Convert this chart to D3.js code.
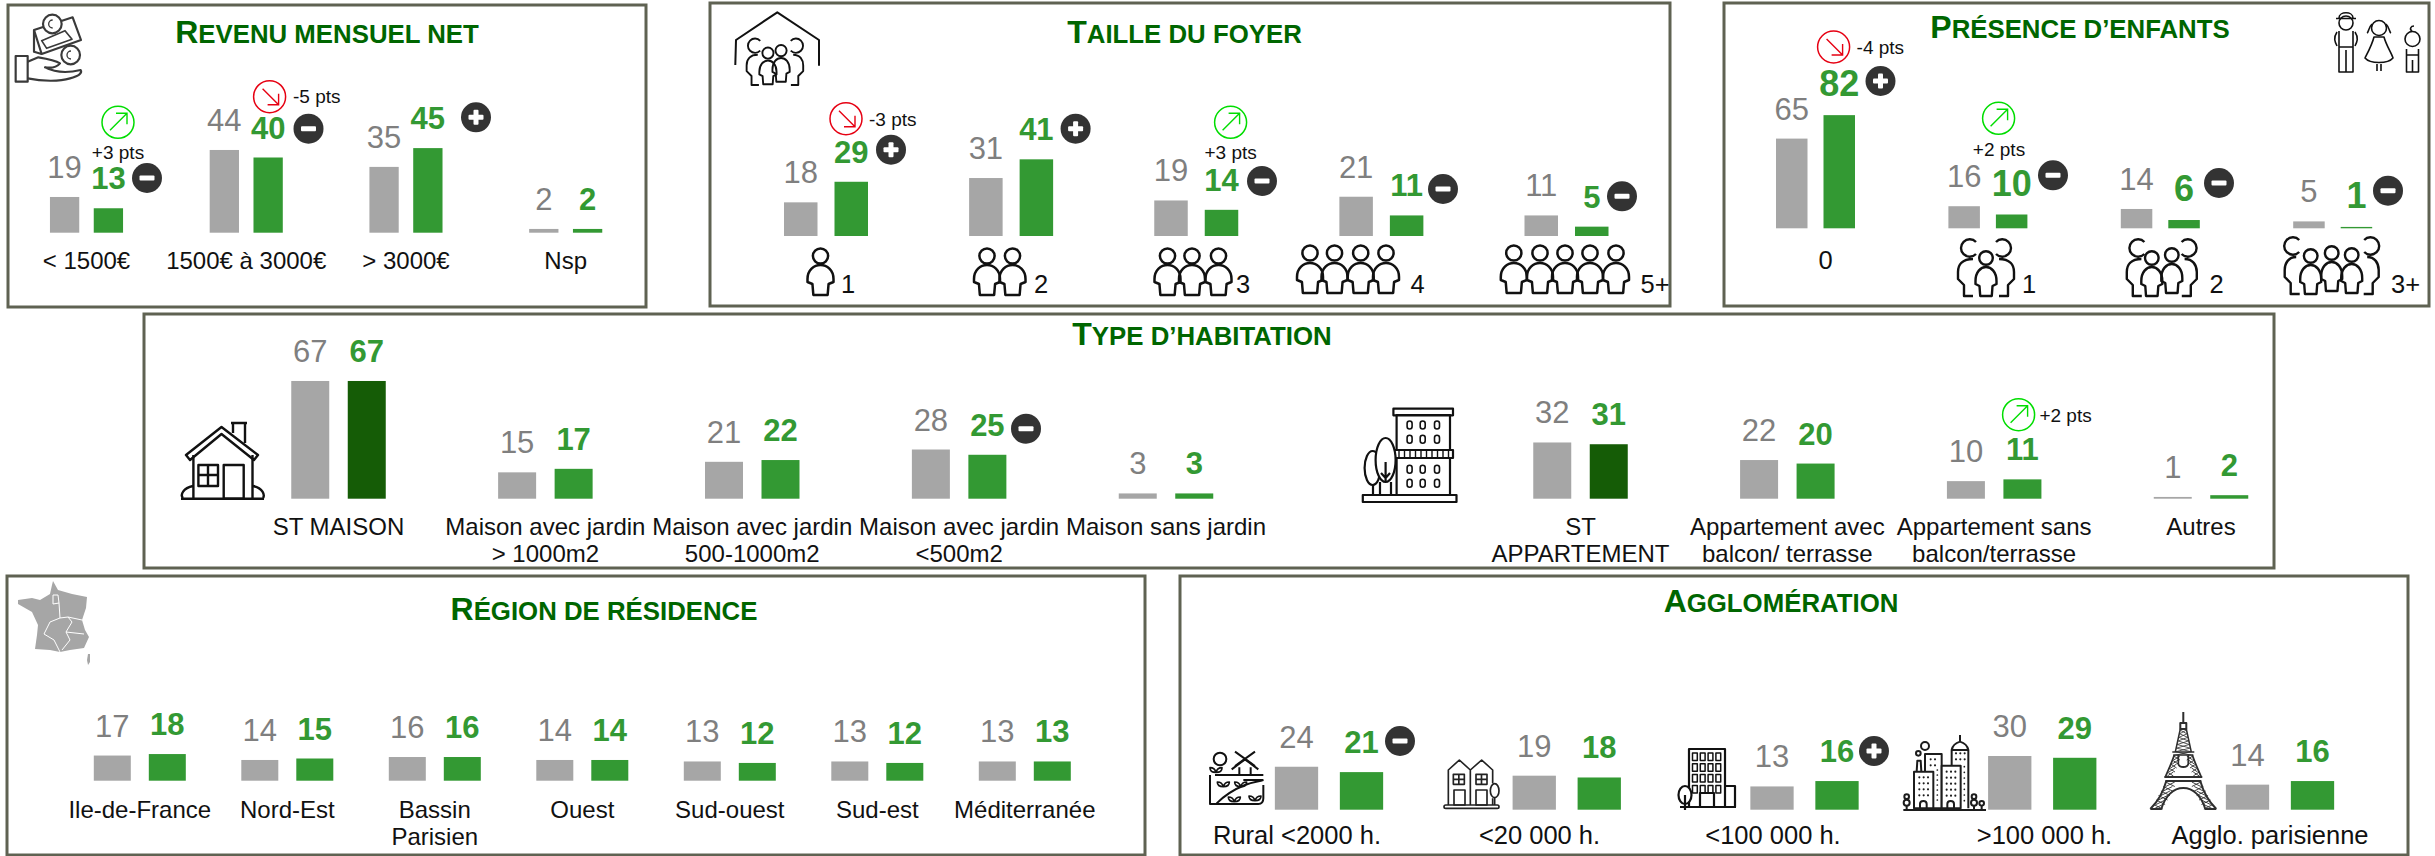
<!DOCTYPE html>
<html>
<head>
<meta charset="utf-8">
<script src="https://cdn.jsdelivr.net/npm/d3@7"></script>
<style>
  html, body { margin: 0; padding: 0; background: #fff; }
  text { font-family: "Liberation Sans", Arial, sans-serif; }
</style>
</head>
<body>
<script>
// values: grey = previous group, green = this group
var revenuCats = ['< 1500€', '1500€ à 3000€', '> 3000€', 'Nsp'];
var revenuGrey = [19, 44, 35, 2];
var revenuGreen = [13, 40, 45, 2];

var foyerCats = ['1', '2', '3', '4', '5+'];
var foyerGrey = [18, 31, 19, 21, 11];
var foyerGreen = [29, 41, 14, 11, 5];

var enfantsCats = ['0', '1', '2', '3+'];
var enfantsGrey = [65, 16, 14, 5];
var enfantsGreen = [82, 10, 6, 1];

var habitationCats = ['ST MAISON', 'Maison avec jardin|> 1000m2', 'Maison avec jardin|500-1000m2', 'Maison avec jardin|<500m2', 'Maison sans jardin',
  'ST|APPARTEMENT', 'Appartement avec|balcon/ terrasse', 'Appartement sans|balcon/terrasse', 'Autres'];
var habitationGrey = [67, 15, 21, 28, 3, 32, 22, 10, 1];
var habitationGreen = [67, 17, 22, 25, 3, 31, 20, 11, 2];

var regionCats = ['Ile-de-France', 'Nord-Est', 'Bassin|Parisien', 'Ouest', 'Sud-ouest', 'Sud-est', 'Méditerranée'];
var regionGrey = [17, 14, 16, 14, 13, 13, 13];
var regionGreen = [18, 15, 16, 14, 12, 12, 13];

var aggloCats = ['Rural <2000 h.', '<20 000 h.', '<100 000 h.', '>100 000 h.', 'Agglo. parisienne'];
var aggloGrey = [24, 19, 13, 30, 14];
var aggloGreen = [21, 18, 16, 29, 16];

var GREY = '#a6a6a6', GREEN = '#339933', DARK = '#155c06', TITLE = '#006600', GREYTXT = '#7f7f7f', BADGE = '#333333', FRAME = '#5f6252';

// panels: frame, scales and annotations (pixel layout lives here, not in the data)
var panels = [
  { title: 'Revenu mensuel net', titleX: 327, titleY: 42.7, box: [8, 5, 638, 302],
    cats: revenuCats, grey: revenuGrey, green: revenuGreen,
    xDomain: [0, 3], xRange: [86.5, 565.7], base: 232.7, k: 1.88, barW: 29.3, gap: 14.5,
    labelY: 269, labelSize: 24,
    badges: [[147, 178, '-'], [308.5, 128.7, '-'], [476, 117.3, '+']],
    arrows: [[118, 122.3, 1, '+3 pts', 118, 159.3, 'middle'], [269.6, 96.7, -1, '-5 pts', 293, 103, 'start']] },
  { title: 'Taille du foyer', titleX: 1184.5, titleY: 42.7, box: [710, 3, 960, 303],
    cats: foyerCats, grey: foyerGrey, green: foyerGreen,
    xDomain: [0, 4], xRange: [826, 1566.5], base: 236, k: 1.87, barW: 33.5, gap: 17,
    labelY: 292.5, labelSize: 25.5, labelX: [848, 1041, 1243, 1417.5, 1655],
    badges: [[891, 149.7, '+'], [1075.6, 128.7, '+'], [1262, 181, '-'], [1443, 189, '-'], [1622, 196.3, '-']],
    arrows: [[846, 118.7, -1, '-3 pts', 869, 126, 'start'], [1230.6, 122.3, 1, '+3 pts', 1230.6, 159, 'middle']] },
  { title: 'Présence d’enfants', titleX: 2080, titleY: 37.7, box: [1724, 3, 705, 303],
    cats: enfantsCats, grey: enfantsGrey, green: enfantsGreen, greenSize: 36,
    xDomain: [0, 3], xRange: [1815.5, 2332.7], base: 228.3, k: 1.38, barW: 31.5, gap: 16,
    labelY: 292.5, labelSize: 25.5, labelX: [1825.6, 2029, 2216.6, 2405.6], labelYs: [269.3, 292.5, 292.5, 292.5],
    badges: [[1880.5, 81, '+'], [2053, 175.3, '-'], [2219, 183, '-'], [2388, 190.7, '-']],
    arrows: [[1833.6, 47, -1, '-4 pts', 1856.6, 54, 'start'], [1998.6, 118.3, 1, '+2 pts', 1999, 156, 'middle']] },
  { title: 'Type d’habitation', titleX: 1202, titleY: 345, box: [144, 314, 2130, 254],
    cats: habitationCats, grey: habitationGrey, green: habitationGreen, darkBars: [0, 5],
    xDomain: [0, 4, 5, 8], xRange: [338.5, 1166, 1580.5, 2201], base: 498.7, k: 1.757, barW: 38, gap: 18.5,
    labelY: 535, labelSize: 24, lineH: 27,
    badges: [[1026, 428.7, '-']],
    arrows: [[2018.6, 414.7, 1, '+2 pts', 2039.4, 421.7, 'start']] },
  { title: 'Région de résidence', titleX: 604, titleY: 620, box: [7, 576, 1138, 279],
    cats: regionCats, grey: regionGrey, green: regionGreen,
    xDomain: [0, 6], xRange: [139.8, 1024.8], base: 780.7, k: 1.48, barW: 37, gap: 18,
    labelY: 817.7, labelSize: 24, lineH: 27, badges: [], arrows: [] },
  { title: 'Agglomération', titleX: 1781, titleY: 611.7, box: [1180, 576, 1228, 279],
    cats: aggloCats, grey: aggloGrey, green: aggloGreen,
    xDomain: [0, 4], xRange: [1329, 2280], base: 809.7, k: 1.79, barW: 43.3, gap: 21.7,
    labelY: 844, labelSize: 25.5, labelX: [1297, 1539.5, 1773, 2044.5, 2270],
    badges: [[1400, 741, '-'], [1874, 751, '+']], arrows: [] }
];

var svg = d3.select('body').append('svg')
  .attr('width', 2435)
  .attr('height', 856)
  .style('display', 'block');

// small caps by hand: capitals bigger than the rest
function drawTitle(p) {
  var t = svg.append('text')
    .attr('x', p.titleX)
    .attr('y', p.titleY)
    .attr('text-anchor', 'middle')
    .attr('font-weight', 'bold')
    .attr('fill', TITLE);
  var runs = p.title.match(/[A-ZÉ]+|[^A-ZÉ]+/g);
  runs.forEach(function(r) {
    t.append('tspan')
      .attr('font-size', /[A-ZÉ]/.test(r[0]) ? 32 : 25.8)
      .style('text-transform', 'uppercase')
      .text(r);
  });
}

function drawBadge(b) {
  var g = svg.append('g').attr('transform', 'translate(' + b[0] + ',' + b[1] + ')');
  g.append('circle').attr('r', 15).attr('fill', BADGE);
  g.append('rect').attr('x', -7.5).attr('y', -2.5).attr('width', 15).attr('height', 5).attr('rx', 1).attr('fill', '#fff');
  if (b[2] === '+') {
    g.append('rect').attr('x', -2.5).attr('y', -7.5).attr('width', 5).attr('height', 15).attr('rx', 1).attr('fill', '#fff');
  }
}

function drawArrow(a) {
  var up = a[2] > 0, col = up ? '#00dd00' : '#e60012';
  var g = svg.append('g').attr('transform', 'translate(' + a[0] + ',' + a[1] + ')')
    .attr('fill', 'none').attr('stroke', col);
  g.append('circle').attr('r', 16).attr('stroke-width', 1.5);
  g.append('path').attr('stroke-width', 1.4).attr('d', up
    ? 'M-8,8 L9,-9 M-2,-9 L9,-9 L9,2'
    : 'M-7,-8 L9,8 M-2,8 L9,8 L9,-3');
  svg.append('text')
    .attr('x', a[4]).attr('y', a[5])
    .attr('text-anchor', a[6])
    .attr('font-size', 19)
    .attr('fill', '#111')
    .text(a[3]);
}

function drawPanel(p) {
  svg.append('rect')
    .attr('x', p.box[0]).attr('y', p.box[1])
    .attr('width', p.box[2]).attr('height', p.box[3])
    .attr('fill', '#fff').attr('stroke', FRAME).attr('stroke-width', 3);

  drawTitle(p);

  var x = d3.scaleLinear().domain(p.xDomain).range(p.xRange);
  var half = p.barW + p.gap / 2;
  var inner = d3.scaleBand().domain(['grey', 'green']).range([-half, half]).paddingInner(p.gap / (p.barW + p.gap));
  var y = d3.scaleLinear().domain([0, 100]).range([p.base, p.base - 100 * p.k]);

  ['grey', 'green'].forEach(function(s) {
    var g = svg.append('g');
    g.selectAll('rect').data(p[s]).enter().append('rect')
      .attr('x', function(d, i) { return x(i) + inner(s); })
      .attr('y', function(d) { return y(d); })
      .attr('width', inner.bandwidth())
      .attr('height', function(d) { return y(0) - y(d); })
      .attr('fill', function(d, i) {
        if (s === 'grey') return GREY;
        return p.darkBars && p.darkBars.indexOf(i) >= 0 ? DARK : GREEN;
      });
    g.selectAll('text').data(p[s]).enter().append('text')
      .attr('x', function(d, i) { return x(i) + inner(s) + inner.bandwidth() / 2; })
      .attr('y', function(d) { return y(d) - 19; })
      .attr('text-anchor', 'middle')
      .attr('font-size', s === 'green' && p.greenSize ? p.greenSize : 31)
      .attr('font-weight', s === 'green' ? 'bold' : 'normal')
      .attr('fill', s === 'green' ? GREEN : GREYTXT)
      .text(function(d) { return d; });
  });

  // category labels, some are on two lines
  p.cats.forEach(function(c, i) {
    c.split('|').forEach(function(line, j) {
      svg.append('text')
        .attr('x', p.labelX ? p.labelX[i] : x(i))
        .attr('y', (p.labelYs ? p.labelYs[i] : p.labelY) + j * (p.lineH || 27))
        .attr('text-anchor', 'middle')
        .attr('font-size', p.labelSize)
        .attr('fill', '#111')
        .text(line);
    });
  });

  p.badges.forEach(drawBadge);
  p.arrows.forEach(drawArrow);
}

panels.forEach(drawPanel);

// ------- pictograms -------
function pict(x, y, s, col, w) {
  return svg.append('g')
    .attr('transform', 'translate(' + x + ',' + y + ') scale(' + (s || 1) + ')')
    .attr('fill', 'none')
    .attr('stroke', col || '#111')
    .attr('stroke-width', w || 2)
    .attr('stroke-linejoin', 'round');
}

function person(g, cx, head, r, w, top, bottom) {
  g.append('circle').attr('cx', cx).attr('cy', head).attr('r', r);
  g.append('path').attr('d',
    'M' + (cx - w) + ',' + (top + 14) +
    ' C' + (cx - w) + ',' + (top + 5) + ' ' + (cx - w / 2) + ',' + top + ' ' + cx + ',' + top +
    ' C' + (cx + w / 2) + ',' + top + ' ' + (cx + w) + ',' + (top + 5) + ' ' + (cx + w) + ',' + (top + 14) +
    ' L' + (cx + w) + ',' + (top + 17) + ' L' + (cx + w * 0.62) + ',' + (top + 19) +
    ' L' + (cx + w * 0.55) + ',' + bottom + ' L' + (cx - w * 0.55) + ',' + bottom +
    ' L' + (cx - w * 0.62) + ',' + (top + 19) + ' L' + (cx - w) + ',' + (top + 17) + ' Z');
}

// people under the foyer bars
[[820.5], [987, 1012.5], [1167.5, 1192, 1218.5]].forEach(function(xs) {
  var g = pict(0, 0, 1, '#111', 2.5);
  xs.forEach(function(cx) { person(g, cx, 256, 7.6, 13, 265, 295); });
});
[[1310, 1334.5, 1360.7, 1386], [1513.8, 1540, 1565, 1590, 1616]].forEach(function(xs) {
  var g = pict(0, 0, 1, '#111', 2.5);
  xs.forEach(function(cx) { person(g, cx, 253, 7.6, 13, 263, 293); });
});

function parent(g, cx, hx, ox, y0, side) {
  // side -1 = left, +1 = right
  var hd = cx + hx, out = cx + ox;
  g.append('path').attr('d', 'M' + (hd - side * 6) + ',' + (y0 - 6) + ' A8.7,8.7 0 1 ' + (side < 0 ? 0 : 1) + ' ' + (hd - side * 6) + ',' + (y0 + 6));
  g.append('path').attr('d',
    'M' + (hd - side * 3) + ',' + (y0 + 11) +
    ' C' + (out - side * 4) + ',' + (y0 + 11) + ' ' + out + ',' + (y0 + 17) + ' ' + out + ',' + (y0 + 24) +
    ' L' + out + ',' + (y0 + 31) + ' L' + (out - side * 6) + ',' + (y0 + 37) + ' L' + (out - side * 6) + ',' + (y0 + 48) + ' L' + (out - side * 15) + ',' + (y0 + 48));
}

function family(x, y, s, kids, hx, ox, w) {
  var g = pict(x, y, s, '#111', w || 2.4);
  parent(g, 0, hx[0], ox[0], 0, -1);
  parent(g, 0, hx[1], ox[1], 0, 1);
  kids.forEach(function(k) { person(g, k[0], k[1], 6.8, 10.5, k[1] + 9, k[1] + 38); });
}

family(1986, 248, 1, [[0, 10]], [-16, 16], [-28, 28]);
family(2161.8, 248, 1, [[-10, 10], [10, 7]], [-23.4, 25.8], [-35, 35]);
family(2331.7, 246, 1, [[-21, 10], [0, 7], [20, 9]], [-38.5, 38.5], [-47, 47]);

// house with the family (foyer title)
var roof = pict(0, 0, 1, '#111', 2);
roof.append('path').attr('d', 'M735.3,65 L736,40 L777.3,12.3 L819,40 L819,65.7');
family(774.5, 45.7, 0.82, [[-8, 9], [8, 6]], [-23.4, 25.8], [-34, 35], 2.3);

// money in a hand, drawn from a 3x crop
var m = pict(10, 10, 1 / 3, '#3a3a3a', 6.5);
m.append('path').attr('d', 'M72,60 L188,22 L213,90 L95,132 Z');
m.append('path').attr('d', 'M72,60 L72,125 L95,132');
m.append('path').attr('d', 'M95,92 L165,62 L186,88 L110,115 Z').attr('stroke-width', 5);
m.append('circle').attr('cx', 127).attr('cy', 42).attr('r', 28).attr('fill', '#fff');
m.append('path').attr('d', 'M128,30 A12,12 0 0 0 128,54').attr('stroke-width', 4);
m.append('circle').attr('cx', 182).attr('cy', 135).attr('r', 28).attr('fill', '#fff');
m.append('path').attr('d', 'M183,123 A12,12 0 0 0 183,147').attr('stroke-width', 4);
m.append('rect').attr('x', 17).attr('y', 138).attr('width', 36).attr('height', 77);
m.append('path').attr('d', 'M53,155 L85,142 C110,146 135,150 150,160 C140,172 125,175 105,172 C130,185 170,190 212,180 C218,190 205,198 180,205 C150,214 100,215 53,205');

// children top right
var kidsIcon = pict(0, 0, 1, '#111', 1.6);
kidsIcon.append('circle').attr('cx', 2346).attr('cy', 23).attr('r', 7);
kidsIcon.append('path').attr('d', 'M2336,18.5 L2356,18.5 M2339,18 C2339,11 2353,11 2353,18');
kidsIcon.append('path').attr('d', 'M2339,31 L2339,72 L2353,72 L2353,31 M2346,50 L2346,72 M2339,47 L2353,47');
kidsIcon.append('path').attr('d', 'M2337,32 C2333,38 2335,42 2337,46 M2355,32 C2359,38 2357,42 2355,46');
kidsIcon.append('circle').attr('cx', 2379).attr('cy', 28).attr('r', 7.5);
kidsIcon.append('path').attr('d', 'M2372,24 C2368,28 2369,32 2367,33 M2386,24 C2390,28 2389,32 2391,33');
kidsIcon.append('path').attr('d', 'M2374,37 L2384,37 C2386,45 2392,54 2393,58 C2388,64 2370,64 2365,58 C2367,54 2372,45 2374,37 Z');
kidsIcon.append('path').attr('d', 'M2377,64 L2377,71 M2381,64 L2381,71');
kidsIcon.append('circle').attr('cx', 2412.5).attr('cy', 39).attr('r', 7.5);
kidsIcon.append('path').attr('d', 'M2412,31 C2409,29 2411,26 2414,26');
kidsIcon.append('path').attr('d', 'M2406.5,49 L2406.5,72 L2418.5,72 L2418.5,49 M2406,55 L2419,55 M2412.5,60 L2412.5,72');

// maison
var h = pict(0, 0, 1, '#111', 2.4);
h.append('path').attr('d', 'M186,455 L221.5,427 L258,455 L254,460 L221.5,434 L190,460 Z');
h.append('path').attr('d', 'M193.4,455 L193.4,498 M252.5,455 L252.5,498 M181,498.7 L264,498.7');
h.append('path').attr('d', 'M233,433 L233,423 L245,423 L245,443 M231,423 L247,423');
h.append('rect').attr('x', 223.7).attr('y', 465).attr('width', 20).attr('height', 33.7);
h.append('rect').attr('x', 198.4).attr('y', 465).attr('width', 19.6).attr('height', 21);
h.append('path').attr('d', 'M208,465 L208,486 M198.4,475 L218,475');
h.append('path').attr('d', 'M193,486 C183,488 180,495 183,498 M253,486 C263,488 265,495 263,498');

// appartement
var ap = pict(0, 0, 1, '#111', 2.2);
ap.append('rect').attr('x', 1393.4).attr('y', 408.7).attr('width', 59.6).attr('height', 6.6).attr('fill', '#fff');
ap.append('rect').attr('x', 1396.6).attr('y', 415).attr('width', 53.4).attr('height', 80);
ap.append('rect').attr('x', 1393.4).attr('y', 450).attr('width', 59.6).attr('height', 8).attr('fill', '#fff');
ap.append('rect').attr('x', 1362.8).attr('y', 495).attr('width', 93.7).attr('height', 7).attr('fill', '#fff');
d3.range(1399, 1451, 5.5).forEach(function(vx) {
  ap.append('path').attr('d', 'M' + vx + ',450 L' + vx + ',458').attr('stroke-width', 1.4);
});
[1409.6, 1422.7, 1437].forEach(function(wx) {
  [425, 439.3, 469.3, 483.3].forEach(function(wy) {
    ap.append('rect').attr('x', wx - 2.5).attr('y', wy - 4).attr('width', 5).attr('height', 8).attr('rx', 2.5).attr('stroke-width', 1.6);
  });
});
ap.append('ellipse').attr('cx', 1372.6).attr('cy', 468).attr('rx', 8).attr('ry', 17).attr('fill', '#fff');
ap.append('ellipse').attr('cx', 1385.6).attr('cy', 460).attr('rx', 10).attr('ry', 22).attr('fill', '#fff');
ap.append('path').attr('d', 'M1373,485 L1373,495 M1380,482 L1380,495 M1391,482 L1391,495 M1385.6,462 L1385.6,482 M1381,473 L1385.6,478 L1390,473');

// France, grey with white region lines
var fr = pict(0, 0, 1, 'none', 0);
fr.append('path').attr('fill', GREY).attr('d', 'M53,581 L58,590 L72,594 L87,597 L86,608 L82,620 L85,630 L89,637 L84,648 L70,650 L60,652 L50,650 L35,649 L37,635 L38,625 L32,612 L18,604 L18,600 L32,598 L40,600 L50,594 L52,585 Z');
fr.append('path').attr('fill', GREY).attr('d', 'M88,654 L90,654 L90,662 L88,665 L87,660 Z');
fr.append('path').attr('stroke', '#fff').attr('stroke-width', 1).attr('fill', 'none')
  .attr('d', 'M53,595 L58,595 L59,603 L53,604 Z M59,603 L60,618 L68,617 L82,620 M60,618 L50,622 L44,634 L54,640 L60,652 M68,617 L72,622 L66,632 L70,640 L62,650 M66,632 L84,634');

// rural: sun, windmill, fields
var r = pict(1200, 730, 1 / 3, '#111', 6);
r.append('circle').attr('cx', 60).attr('cy', 87).attr('r', 19);
r.append('path').attr('d', 'M105,65 L165,108 M165,65 L105,108');
r.append('path').attr('d', 'M95,118 L135,88 L175,118 M118,135 L118,112 M152,135 L152,112');
r.append('path').attr('d', 'M30,135 L30,222 L175,222 C186,222 190,215 190,205 L190,165 M45,135 L100,135 M100,135 L190,135 M130,150 L190,150');
r.append('path').attr('d', 'M50,220 C80,190 110,175 135,165 C160,155 175,155 190,150');
[[48, 127], [70, 170], [122, 170], [103, 215], [165, 212]].forEach(function(c) {
  r.append('path').attr('stroke-width', 5).attr('d',
    'M' + c[0] + ',' + c[1] + ' C' + (c[0] - 4) + ',' + (c[1] - 14) + ' ' + (c[0] - 14) + ',' + (c[1] - 14) + ' ' + (c[0] - 18) + ',' + (c[1] - 14) +
    ' C' + (c[0] - 18) + ',' + (c[1] - 4) + ' ' + (c[0] - 10) + ',' + c[1] + ' ' + c[0] + ',' + c[1] +
    ' C' + (c[0] + 10) + ',' + c[1] + ' ' + (c[0] + 18) + ',' + (c[1] - 4) + ' ' + (c[0] + 18) + ',' + (c[1] - 14) +
    ' C' + (c[0] + 14) + ',' + (c[1] - 14) + ' ' + (c[0] + 4) + ',' + (c[1] - 14) + ' ' + c[0] + ',' + c[1]);
});

// two small houses
var t = pict(1200, 730, 1 / 3, '#222', 5);
t.append('path').attr('d', 'M745,225 L745,120 L778,90 L811,120 L845,90 L878,120 L878,160 M878,205 L878,225 M811,120 L811,225');
[[760, 133], [828, 133]].forEach(function(c) {
  t.append('rect').attr('x', c[0]).attr('y', c[1]).attr('width', 33).attr('height', 30);
  t.append('path').attr('d', 'M' + (c[0] + 16.5) + ',' + c[1] + ' l0,30 M' + c[0] + ',' + (c[1] + 15) + ' l33,0');
});
t.append('rect').attr('x', 762).attr('y', 180).attr('width', 33).attr('height', 45);
t.append('rect').attr('x', 828).attr('y', 180).attr('width', 33).attr('height', 45);
t.append('rect').attr('x', 732).attr('y', 225).attr('width', 165).attr('height', 10).attr('rx', 5);
t.append('ellipse').attr('cx', 884).attr('cy', 182).attr('rx', 13).attr('ry', 21).attr('fill', '#fff');
t.append('path').attr('d', 'M884,203 L884,225');

// office block with a tree
var o = pict(0, 0, 1, '#111', 2.2);
o.append('rect').attr('x', 1689).attr('y', 749).attr('width', 36).attr('height', 58);
o.append('path').attr('d', 'M1725,786 L1735,786 L1735,807 M1680,807 L1736,807');
d3.range(4).forEach(function(col) {
  d3.range(4).forEach(function(row) {
    o.append('rect').attr('x', 1692.5 + col * 7.8).attr('y', 753 + row * 10.8).attr('width', 4.8).attr('height', 7.5).attr('stroke-width', 1.5);
  });
});
o.append('rect').attr('x', 1700).attr('y', 793).attr('width', 14).attr('height', 14).attr('fill', '#fff');
o.append('ellipse').attr('cx', 1685).attr('cy', 795).attr('rx', 6.5).attr('ry', 9).attr('fill', '#fff');
o.append('path').attr('d', 'M1685,795 L1685,810');

// city skyline, from a 3x crop
var c = pict(1900, 670, 1 / 3, '#1c1c1c', 6);
c.append('path').attr('d', 'M10,420 L258,420');
c.append('path').attr('d', 'M155,415 L155,240 C158,225 170,218 180,215 C190,218 202,225 205,240 L205,415 M155,240 L205,240 M180,195 L180,215');
c.append('rect').attr('x', 75).attr('y', 252).attr('width', 50).attr('height', 163).attr('fill', '#fff');
c.append('rect').attr('x', 125).attr('y', 287).attr('width', 57).attr('height', 128).attr('fill', '#fff');
c.append('rect').attr('x', 42).attr('y', 305).attr('width', 58).attr('height', 110).attr('fill', '#fff');
c.append('path').attr('d', 'M50,305 L52,272 L62,272 L64,305');
c.append('circle').attr('cx', 75).attr('cy', 228).attr('r', 12);
c.append('circle').attr('cx', 55).attr('cy', 250).attr('r', 7);
[[58, 322, 3, 4], [92, 268, 2, 2], [140, 305, 3, 5], [168, 250, 3, 2]].forEach(function(w) {
  d3.range(w[2]).forEach(function(col) {
    d3.range(w[3]).forEach(function(row) {
      c.append('circle').attr('cx', w[0] + col * 13).attr('cy', w[1] + row * 18).attr('r', 3.2).attr('fill', '#1c1c1c').attr('stroke', 'none');
    });
  });
});
d3.range(7).forEach(function(row) {
  c.append('circle').attr('cx', 112).attr('cy', 300 + row * 15).attr('r', 2.6).attr('fill', '#1c1c1c').attr('stroke', 'none');
  c.append('circle').attr('cx', 193).attr('cy', 290 + row * 17).attr('r', 2.6).attr('fill', '#1c1c1c').attr('stroke', 'none');
});
c.append('path').attr('d', 'M60,415 L60,402 C60,390 80,390 80,402 L80,415 M142,415 L142,402 C142,390 162,390 162,402 L162,415');
[[20, 380, 7], [20, 398, 9], [222, 380, 7], [222, 398, 9], [245, 400, 7]].forEach(function(b) {
  c.append('circle').attr('cx', b[0]).attr('cy', b[1]).attr('r', b[2]);
});
c.append('path').attr('d', 'M20,405 L20,418 M222,405 L222,418 M245,405 L245,418');

// Eiffel tower
var e = pict(2183.3, 712, 1, '#2e2e2e', 1.5);
e.append('path').attr('stroke-width', 2).attr('d', 'M0,0 L0,11 M-3,11 L3,11 L3,17 L-3,17 Z');
e.append('path').attr('d', 'M-3,17 L-8,40 M3,17 L8,40 M-11,40 L11,40 M-10,43 L10,43');
e.append('path').attr('stroke-width', 1.8).attr('d', 'M-9,43 C-12,52 -15,58 -18,65 M9,43 C12,52 15,58 18,65 M-19,65 L19,65 M-18,69 L18,69 M-5,43 L-5,52 C-4,56 4,56 5,52 L5,43');
e.append('path').attr('stroke-width', 2).attr('d', 'M-17,69 C-20,80 -26,90 -33,97 M17,69 C20,80 26,90 33,97 M-33,97 L-22,97 C-18,84 -10,76 0,76 C10,76 18,84 22,97 L33,97');
d3.range(18, 40, 3.6).forEach(function(yy) {
  var hw = 3 + (yy - 17) * 5 / 23;
  e.append('path').attr('stroke-width', 0.8).attr('d', 'M' + (-hw) + ',' + yy + ' L' + hw + ',' + (yy + 3.6) + ' M' + hw + ',' + yy + ' L' + (-hw) + ',' + (yy + 3.6));
});
d3.range(44, 64, 4).forEach(function(yy) {
  var hw = 9 + (yy - 43) * 9 / 22;
  e.append('path').attr('stroke-width', 0.9).attr('d', 'M' + (-hw) + ',' + yy + ' L' + (-hw + 6) + ',' + (yy + 4) + ' M' + (-hw + 6) + ',' + yy + ' L' + (-hw) + ',' + (yy + 4) + ' M' + hw + ',' + yy + ' L' + (hw - 6) + ',' + (yy + 4) + ' M' + (hw - 6) + ',' + yy + ' L' + hw + ',' + (yy + 4));
});
d3.range(70, 96, 4.5).forEach(function(yy) {
  var hw = 17 + (yy - 69) * 15 / 28;
  e.append('path').attr('stroke-width', 0.9).attr('d', 'M' + (-hw) + ',' + yy + ' L' + (-hw + 9) + ',' + (yy + 4.5) + ' M' + (-hw + 9) + ',' + yy + ' L' + (-hw) + ',' + (yy + 4.5) + ' M' + hw + ',' + yy + ' L' + (hw - 9) + ',' + (yy + 4.5) + ' M' + (hw - 9) + ',' + yy + ' L' + hw + ',' + (yy + 4.5));
});
</script>
</body>
</html>
